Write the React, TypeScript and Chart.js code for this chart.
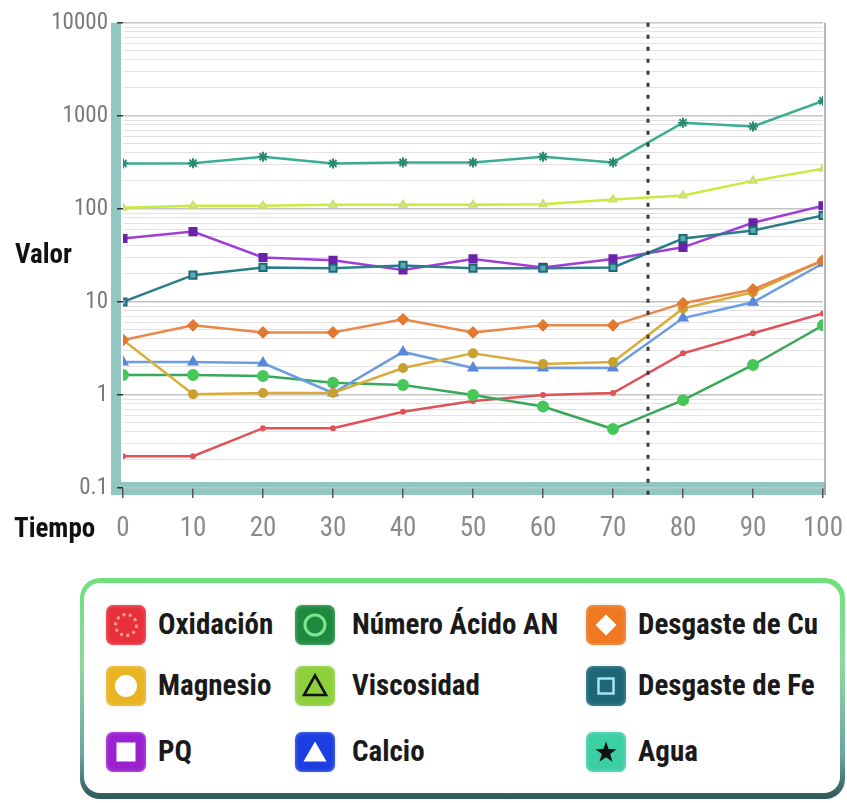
import React, { useEffect, useRef } from 'react';
import { Chart, registerables } from 'chart.js';
Chart.register(...registerables);

// ---- data ----
const tiempo = [0, 10, 20, 30, 40, 50, 60, 70, 80, 90, 100];
const oxidacion = [0.22, 0.22, 0.44, 0.44, 0.66, 0.86, 1.0, 1.05, 2.8, 4.6, 7.5];
const numeroAcido = [1.64, 1.64, 1.6, 1.35, 1.28, 1.0, 0.75, 0.43, 0.88, 2.1, 5.6];
const desgasteCu = [3.9, 5.6, 4.7, 4.7, 6.5, 4.7, 5.6, 5.6, 9.7, 13.6, 28];
const magnesio = [3.9, 1.02, 1.05, 1.05, 1.95, 2.8, 2.15, 2.26, 8.5, 12.7, 28];
const viscosidad = [103, 108, 108, 111, 111, 111, 112, 126, 139, 200, 270];
const desgasteFe = [10, 19.4, 23.5, 23, 24.7, 23, 23, 23.5, 48, 58.5, 85];
const pq = [48, 57, 30, 28, 22, 29, 23.5, 29, 38.6, 71, 108];
const calcio = [2.26, 2.26, 2.2, 1.05, 2.9, 1.95, 1.95, 1.95, 6.7, 9.9, 26];
const agua = [307, 310, 363, 307, 315, 315, 363, 316, 845, 770, 1450];
const yLabelTicks = [0.1, 1, 10, 100, 1000, 10000];
const xTickStep = 10;
const dividerTiempo = 75;

const COND = 'Roboto, "Liberation Sans", sans-serif';

type Series = {
  label: string;
  data: number[];
  line: string;
  point: string;
  pointFill: string;
  style: string;
  radius: number;
};

const series: Series[] = [
  { label: 'Agua', data: agua, line: '#3aae8e', point: '#2a8a70', pointFill: '#2a8a70', style: 'star', radius: 5 },
  { label: 'Viscosidad', data: viscosidad, line: '#c8ec3c', point: '#c8e070', pointFill: '#d8ec90', style: 'triangle', radius: 4 },
  { label: 'Desgaste de Fe', data: desgasteFe, line: '#2b7e88', point: '#1f6a74', pointFill: '#58aab4', style: 'rect', radius: 5 },
  { label: 'PQ', data: pq, line: '#a23ed6', point: '#6a22a8', pointFill: '#6a22a8', style: 'rect', radius: 5 },
  { label: 'Desgaste de Cu', data: desgasteCu, line: '#e8884a', point: '#e07a30', pointFill: '#e07a30', style: 'rectRot', radius: 5 },
  { label: 'Magnesio', data: magnesio, line: '#d9ad3c', point: '#c9a030', pointFill: '#c9a030', style: 'circle', radius: 4 },
  { label: 'Calcio', data: calcio, line: '#6c9ce2', point: '#5a88d8', pointFill: '#5a88d8', style: 'triangle', radius: 5 },
  { label: 'Número Ácido AN', data: numeroAcido, line: '#3aa85a', point: '#46c858', pointFill: '#46c858', style: 'circle', radius: 5 },
  { label: 'Oxidación', data: oxidacion, line: '#e05257', point: '#e05257', pointFill: '#e05257', style: 'circle', radius: 2 },
];

// legend order (row-major) and icon styles
const legendOrder = [
  'Oxidación', 'Número Ácido AN', 'Desgaste de Cu',
  'Magnesio', 'Viscosidad', 'Desgaste de Fe',
  'PQ', 'Calcio', 'Agua',
];
const legendIconColors: Record<string, string> = {
  'Oxidación': '#e8303a',
  'Número Ácido AN': '#1e8a40',
  'Desgaste de Cu': '#f07820',
  'Magnesio': '#e8b422',
  'Viscosidad': '#8ed03c',
  'Desgaste de Fe': '#1c6678',
  'PQ': '#9a20d0',
  'Calcio': '#1a3ee0',
  'Agua': '#3ccfa4',
};

function Icon({ name }: { name: string }) {
  const bg = legendIconColors[name];
  let inner: any = null;
  switch (name) {
    case 'Oxidación':
      inner = <circle cx={20} cy={20} r={10.5} fill="none" stroke="#ff9c9c" strokeWidth={3} strokeDasharray="3 3.5" />;
      break;
    case 'Número Ácido AN':
      inner = <circle cx={20} cy={20} r={10} fill="none" stroke="#7fe58c" strokeWidth={3} />;
      break;
    case 'Desgaste de Cu':
      inner = <polygon points="20,9.5 30.5,20 20,30.5 9.5,20" fill="#ffffff" />;
      break;
    case 'Magnesio':
      inner = <circle cx={20} cy={20} r={11} fill="#ffffff" />;
      break;
    case 'Viscosidad':
      inner = <polygon points="20,9.5 31,29 9,29" fill="none" stroke="#111" strokeWidth={2.6} strokeLinejoin="miter" />;
      break;
    case 'Desgaste de Fe':
      inner = <rect x={12.5} y={12.5} width={15} height={15} fill="none" stroke="#a6e2f2" strokeWidth={2.5} />;
      break;
    case 'PQ':
      inner = <rect x={10.5} y={10.5} width={19} height={19} fill="#ffffff" />;
      break;
    case 'Calcio':
      inner = <polygon points="20,9.5 31.5,29.5 8.5,29.5" fill="#ffffff" />;
      break;
    case 'Agua':
      inner = <polygon points="20,9.5 22.6,17 30.5,17.2 24.2,22 26.5,29.8 20,25.2 13.5,29.8 15.8,22 9.5,17.2 17.4,17" fill="#111" />;
      break;
  }
  return (
    <div style={{
      width: 40, height: 40, borderRadius: 7, background: bg,
      boxShadow: 'inset 0 0 4px rgba(255,255,255,0.35), 0 0 3px rgba(0,0,0,0.15)',
      position: 'relative',
    }}>
      <svg width={40} height={40} style={{ position: 'absolute', left: 0, top: 0 }}>{inner}</svg>
    </div>
  );
}

const gridValues: number[] = (() => {
  const out: number[] = [];
  for (let e = -1; e < 4; e++) {
    for (let m = 1; m <= 9; m++) out.push(Number((m * Math.pow(10, e)).toPrecision(3)));
  }
  out.push(10000);
  return out;
})();

const decorPlugin = {
  id: 'decor',
  beforeDraw(chart: any) {
    const { ctx, chartArea } = chart;
    ctx.save();
    ctx.fillStyle = '#92c6c0';
    ctx.fillRect(chartArea.left - 12, chartArea.top, 10, chartArea.bottom + 7 - chartArea.top);
    ctx.fillRect(chartArea.left - 12, chartArea.bottom - 6, chartArea.right + 3 - (chartArea.left - 12), 13);
    ctx.restore();
  },
  afterDatasetsDraw(chart: any) {
    const { ctx, chartArea, scales } = chart;
    ctx.save();
    ctx.strokeStyle = '#a0a0a0';
    ctx.lineWidth = 1.5;
    ctx.beginPath();
    ctx.moveTo(chartArea.right + 2, chartArea.top);
    ctx.lineTo(chartArea.right + 2, chartArea.bottom + 7);
    ctx.stroke();
    const x = scales.x.getPixelForValue(dividerTiempo);
    ctx.strokeStyle = '#3a3a3a';
    ctx.lineWidth = 3;
    ctx.setLineDash([4, 8]);
    ctx.beginPath();
    ctx.moveTo(x, chartArea.top);
    ctx.lineTo(x, chartArea.bottom + 7);
    ctx.stroke();
    ctx.restore();
  },
};

const labelStyle: any = {
  position: 'absolute', fontFamily: COND, fontWeight: 'bold', fontStretch: 'condensed',
  fontSize: 29, lineHeight: '34px', color: '#111', whiteSpace: 'nowrap',
};

export default function App() {
  const ref = useRef<HTMLCanvasElement>(null);
  useEffect(() => {
    const chart = new Chart(ref.current!, {
      type: 'line',
      data: {
        datasets: series.map((s) => ({
          label: s.label,
          data: tiempo.map((t, i) => ({ x: t, y: s.data[i] })),
          borderColor: s.line,
          backgroundColor: s.pointFill,
          pointBorderColor: s.point,
          pointBackgroundColor: s.pointFill,
          pointStyle: s.style as any,
          pointRadius: s.radius,
          pointBorderWidth: 2,
          borderWidth: 2.5,
          tension: 0,
          fill: false,
        })),
      },
      options: {
        animation: false,
        responsive: true,
        maintainAspectRatio: false,
        layout: { padding: { left: 0, right: 24, top: 22, bottom: 0 } },
        plugins: { legend: { display: false }, tooltip: { enabled: false } },
        scales: {
          x: {
            type: 'linear',
            min: 0,
            max: 100,
            afterFit: (s: any) => { s.height = 72; s.paddingRight = 20; s.paddingLeft = 0; },
            ticks: {
              stepSize: xTickStep,
              color: '#8a8a8a',
              padding: 15,
              font: { family: COND, size: 27, weight: 'condensed' },
            },
            grid: { drawOnChartArea: false, drawTicks: true, tickLength: 10, tickColor: '#555', lineWidth: 1.5 },
            border: { display: false },
          },
          y: {
            type: 'logarithmic',
            min: 0.1,
            max: 10000,
            afterFit: (s: any) => { s.width = 123; },
            afterBuildTicks: (s: any) => {
              s.ticks = gridValues.map((v) => ({ value: v, major: yLabelTicks.includes(v) }));
            },
            ticks: {
              autoSkip: false,
              color: '#7a7a7a',
              padding: 9,
              font: { family: COND, size: 23, weight: 'condensed' },
              callback: (v: any) => (yLabelTicks.includes(Number(v)) ? String(v) : ''),
            },
            grid: {
              drawTicks: true,
              tickLength: 6,
              color: (c: any) => (c.tick && yLabelTicks.includes(c.tick.value) ? '#c4c4c4' : '#e2e2e2'),
              tickColor: (c: any) => (c.tick && yLabelTicks.includes(c.tick.value) ? '#333' : 'rgba(0,0,0,0)'),
              lineWidth: (c: any) => (c.tick && yLabelTicks.includes(c.tick.value) ? 1.5 : 1),
            },
            border: { display: false },
          },
        },
      },
      plugins: [decorPlugin],
    } as any);
    return () => chart.destroy();
  }, []);

  const colText = [158, 352, 638];
  const colIcon = [106, 295, 586];
  const rowY = [625, 686, 752];

  return (
    <div style={{ position: 'fixed', left: 0, top: 0, width: 847, height: 803, background: '#fff', overflow: 'hidden' }}>
      <div style={{ position: 'absolute', left: 0, top: 0, width: 847, height: 560 }}>
        <canvas ref={ref} width={847} height={560} />
      </div>
      <div style={{ ...labelStyle, fontSize: 27, left: 15, top: 237 }}>Valor</div>
      <div style={{ ...labelStyle, fontSize: 27, left: 14, top: 511 }}>Tiempo</div>
      <div style={{
        position: 'absolute', left: 80, top: 578, width: 765, height: 221, borderRadius: 20,
        background: 'linear-gradient(180deg, #6fe07c 0%, #8ed8a0 40%, #6aa6a2 80%, #2d5858 100%)',
      }}>
        <div style={{ position: 'absolute', left: 4, top: 5, right: 5, bottom: 6, borderRadius: 16, background: '#ffffff' }} />
      </div>
      {legendOrder.map((name, i) => {
        const r = Math.floor(i / 3);
        const c = i % 3;
        return (
          <React.Fragment key={name}>
            <div style={{ position: 'absolute', left: colIcon[c], top: rowY[r] - 20 }}>
              <Icon name={name} />
            </div>
            <div style={{ ...labelStyle, left: colText[c], top: rowY[r] - 18, color: '#1a1a1a' }}>{name}</div>
          </React.Fragment>
        );
      })}
    </div>
  );
}
